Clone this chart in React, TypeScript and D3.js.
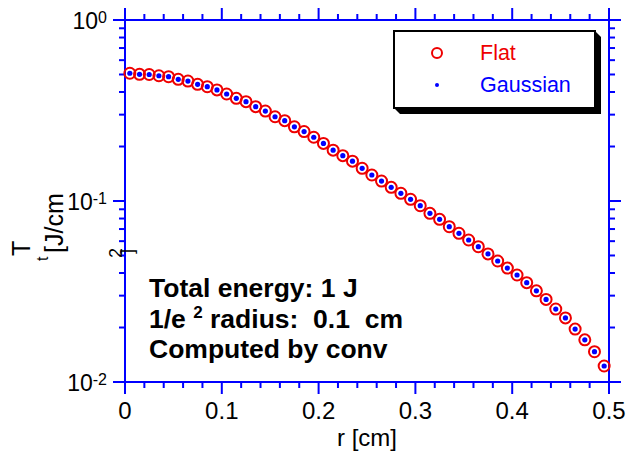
import React from 'react';
import * as d3 from 'd3';

const rValues = [
  0.005, 0.015, 0.025, 0.035, 0.045, 0.055, 0.065, 0.075, 0.085, 0.095,
  0.105, 0.115, 0.125, 0.135, 0.145, 0.155, 0.165, 0.175, 0.185, 0.195,
  0.205, 0.215, 0.225, 0.235, 0.245, 0.255, 0.265, 0.275, 0.285, 0.295,
  0.305, 0.315, 0.325, 0.335, 0.345, 0.355, 0.365, 0.375, 0.385, 0.395,
  0.405, 0.415, 0.425, 0.435, 0.445, 0.455, 0.465, 0.475, 0.485, 0.495,
];

const flatT = [
  0.508, 0.501, 0.500, 0.492, 0.486, 0.470, 0.460, 0.441, 0.428, 0.411,
  0.390, 0.369, 0.354, 0.332, 0.314, 0.292, 0.278, 0.257, 0.242, 0.225,
  0.208, 0.191, 0.178, 0.166, 0.1516, 0.1392, 0.1289, 0.119, 0.1103, 0.1022,
  0.0942, 0.0855, 0.0792, 0.0721, 0.0663, 0.0609, 0.0559, 0.051, 0.0466, 0.0426,
  0.039, 0.0354, 0.0319, 0.0286, 0.0253, 0.0226, 0.0196, 0.0171, 0.0147, 0.01226,
];

const gaussT = [
  0.508, 0.501, 0.500, 0.492, 0.486, 0.470, 0.460, 0.441, 0.428, 0.411,
  0.390, 0.369, 0.354, 0.332, 0.314, 0.292, 0.278, 0.257, 0.242, 0.225,
  0.208, 0.191, 0.178, 0.166, 0.1516, 0.1392, 0.1289, 0.119, 0.1103, 0.1022,
  0.0942, 0.0855, 0.0792, 0.0721, 0.0663, 0.0609, 0.0559, 0.051, 0.0466, 0.0426,
  0.039, 0.0354, 0.0319, 0.0286, 0.0253, 0.0226, 0.0196, 0.0171, 0.0147, 0.01226,
];

const xTicks = [0, 0.1, 0.2, 0.3, 0.4, 0.5];
const xTickLabels = ['0', '0.1', '0.2', '0.3', '0.4', '0.5'];
const yTickExps = [0, -1, -2];
const yTickLabels = ['0', '-1', '-2'];
const legendNames = ['Flat', 'Gaussian'];
const annotations = ['Total energy: 1 J', 'Computed by conv'];

const W = 628;
const H = 455;
const L = 125, R = 609, T = 20, B = 382;
const BLUE = '#0000ff';
const RED = '#ee0000';
const FONT = '"Liberation Sans", Arial, Helvetica, sans-serif';

export default function App() {
  const x = d3.scaleLinear().domain([0, 0.5]).range([L, R]);
  const y = d3.scaleLog().domain([0.01, 1]).range([B, T]);

  const xMinor = d3.range(0, 0.5001, 0.02).filter((v) => Math.abs(v * 10 - Math.round(v * 10)) > 1e-6);
  const yMinor: number[] = [];
  [0.01, 0.1].forEach((d) => {
    for (let k = 2; k <= 9; k++) yMinor.push(d * k);
  });
  const majLen = 12;
  const minLen = 6;

  return (
    <svg width={W} height={H} style={{ position: 'absolute', left: 0, top: 0, background: '#fff' }} fontFamily={FONT}>
      <rect x={0} y={0} width={W} height={H} fill="#fff" />
      <rect x={L} y={T} width={R - L} height={B - T} fill="none" stroke={BLUE} strokeWidth={2} />
      {xTicks.map((t) => (
        <g key={'xt' + t}>
          <line x1={x(t)} x2={x(t)} y1={B} y2={B + majLen} stroke={BLUE} strokeWidth={2} />
          <line x1={x(t)} x2={x(t)} y1={T} y2={T - majLen} stroke={BLUE} strokeWidth={2} />
        </g>
      ))}
      {xMinor.map((t) => (
        <g key={'xm' + t}>
          <line x1={x(t)} x2={x(t)} y1={B} y2={B + minLen} stroke={BLUE} strokeWidth={2} />
          <line x1={x(t)} x2={x(t)} y1={T} y2={T - minLen} stroke={BLUE} strokeWidth={2} />
        </g>
      ))}
      {yTickExps.map((e) => (
        <g key={'yt' + e}>
          <line x1={L} x2={L - majLen} y1={y(Math.pow(10, e))} y2={y(Math.pow(10, e))} stroke={BLUE} strokeWidth={2} />
          <line x1={R} x2={R + majLen} y1={y(Math.pow(10, e))} y2={y(Math.pow(10, e))} stroke={BLUE} strokeWidth={2} />
        </g>
      ))}
      {yMinor.map((v, i) => (
        <g key={'ym' + i}>
          <line x1={L} x2={L - minLen} y1={y(v)} y2={y(v)} stroke={BLUE} strokeWidth={2} />
          <line x1={R} x2={R + minLen} y1={y(v)} y2={y(v)} stroke={BLUE} strokeWidth={2} />
        </g>
      ))}
      {xTicks.map((t, i) => (
        <text key={'xl' + t} x={x(t)} y={419} textAnchor="middle" fontSize={24} fill="#000">
          {xTickLabels[i]}
        </text>
      ))}
      <text x={(L + R) / 2} y={446} textAnchor="middle" fontSize={24} fill="#000">r [cm]</text>
      {yTickExps.map((e, i) => (
        <text key={'yl' + e} x={107} y={y(Math.pow(10, e)) + 9} textAnchor="end" fontSize={23} fill="#000">
          10<tspan fontSize={16} dy={-6}>{yTickLabels[i]}</tspan>
        </text>
      ))}
      <text transform="translate(30,256) rotate(-90)" fontSize={25} fill="#000">T</text>
      <text transform="translate(48,261) rotate(-90)" fontSize={16} fill="#000">t</text>
      <text transform="translate(63,253) rotate(-90)" fontSize={25} fill="#000">[J/cm</text>
      <text transform="translate(122,258) rotate(-90)" fontSize={18} fill="#000">2</text>
      <text transform="translate(133,254) rotate(-90)" fontSize={18} fill="#000">]</text>
      {rValues.map((r, i) => (
        <circle key={'f' + i} cx={x(r)} cy={y(flatT[i])} r={5.5} fill="none" stroke={RED} strokeWidth={2} />
      ))}
      {rValues.map((r, i) => (
        <circle key={'g' + i} cx={x(r)} cy={y(gaussT[i])} r={2.6} fill={BLUE} />
      ))}
      <polygon points="595,31 601,37 601,114 400,114 394,108" fill="#000" />
      <rect x={394} y={31} width={201} height={77} fill="#fff" stroke="#000" strokeWidth={2} />
      <circle cx={437} cy={53} r={5} fill="none" stroke={RED} strokeWidth={2} />
      <text x={480} y={60} fontSize={21.5} fill={RED}>{legendNames[0]}</text>
      <circle cx={437} cy={85} r={2} fill={BLUE} />
      <text x={480} y={92} fontSize={21.5} fill={BLUE}>{legendNames[1]}</text>
      <text x={149} y={297} fontSize={26.5} fontWeight="bold" fill="#000">{annotations[0]}</text>
      <text x={149} y={328} fontSize={26.5} fontWeight="bold" fill="#000" xmlSpace="preserve">
        1/e <tspan fontSize={17} dy={-10}>2</tspan><tspan dy={10}>{' radius:  0.1  cm'}</tspan>
      </text>
      <text x={149} y={358} fontSize={26.5} fontWeight="bold" fill="#000">{annotations[1]}</text>
    </svg>
  );
}
